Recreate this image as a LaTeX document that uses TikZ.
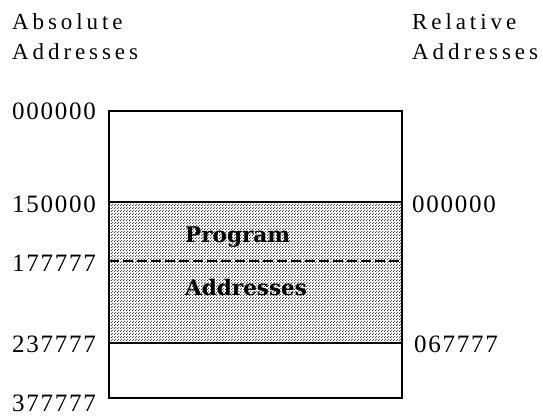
\documentclass[tikz,border=0pt]{standalone}
\usepackage{fontspec}
\usetikzlibrary{patterns}
\setmainfont{Liberation Serif}
\newfontfamily\headfont[LetterSpace=17]{Liberation Serif}
\newfontfamily\numfont[LetterSpace=7]{Liberation Serif}
\newfontfamily\regionfont{DejaVu Serif}
% staggered halftone dots
\pgfdeclarepatternformonly{halftone}{\pgfpointorigin}{\pgfpoint{3pt}{3pt}}{\pgfpoint{3pt}{3pt}}{%
  \pgfpathcircle{\pgfpoint{0.75pt}{0.75pt}}{0.8pt}%
  \pgfpathcircle{\pgfpoint{2.25pt}{2.25pt}}{0.8pt}%
  \pgfusepath{fill}}
\begin{document}
\begin{tikzpicture}[x=1pt,y=-1pt,
  head/.style={font=\headfont\fontsize{23}{25}\selectfont, inner sep=0pt, anchor=base west},
  addr/.style={font=\numfont\fontsize{25}{27}\selectfont, inner sep=0pt, anchor=base west},
  region/.style={font=\regionfont\bfseries\fontsize{21.5}{23}\selectfont, inner sep=0pt, anchor=base west},
  frame/.style={line width=1.8pt},
  boundary/.style={line width=1.5pt}]
\useasboundingbox (0,0) rectangle (543,415);

% memory block: shaded program area between 150000 and 237777
\fill[pattern=halftone, pattern color=black!85] (109,202) rectangle (402,343);
\draw[boundary] (109,202) -- (402,202);
\draw[boundary] (109,343) -- (402,343);
\draw[boundary, dash pattern=on 10pt off 4pt] (109,261) -- (402,261);
\draw[frame] (109,111) rectangle (402,398);

% column headings
\node[head] (absA) at (12,29) {Absolute};
\node[head] (absB) at (12,59) {Addresses};
\node[head] (relA) at (412,29) {Relative};
\node[head] (relB) at (412,59) {Addresses};

% absolute addresses
\node[addr] (a0) at (12,119) {000000};
\node[addr] (a1) at (12,212) {150000};
\node[addr] (a2) at (12,271) {177777};
\node[addr] (a3) at (12,352) {237777};
\node[addr] (a4) at (12,411) {377777};

% relative addresses
\node[addr] (r0) at (412,212) {000000};
\node[addr] (r1) at (414,352) {067777};

% region label
\node[region] (prog) at (185,242) {Program};
\node[region] (addrs) at (185,295) {Addresses};
\end{tikzpicture}
\end{document}
